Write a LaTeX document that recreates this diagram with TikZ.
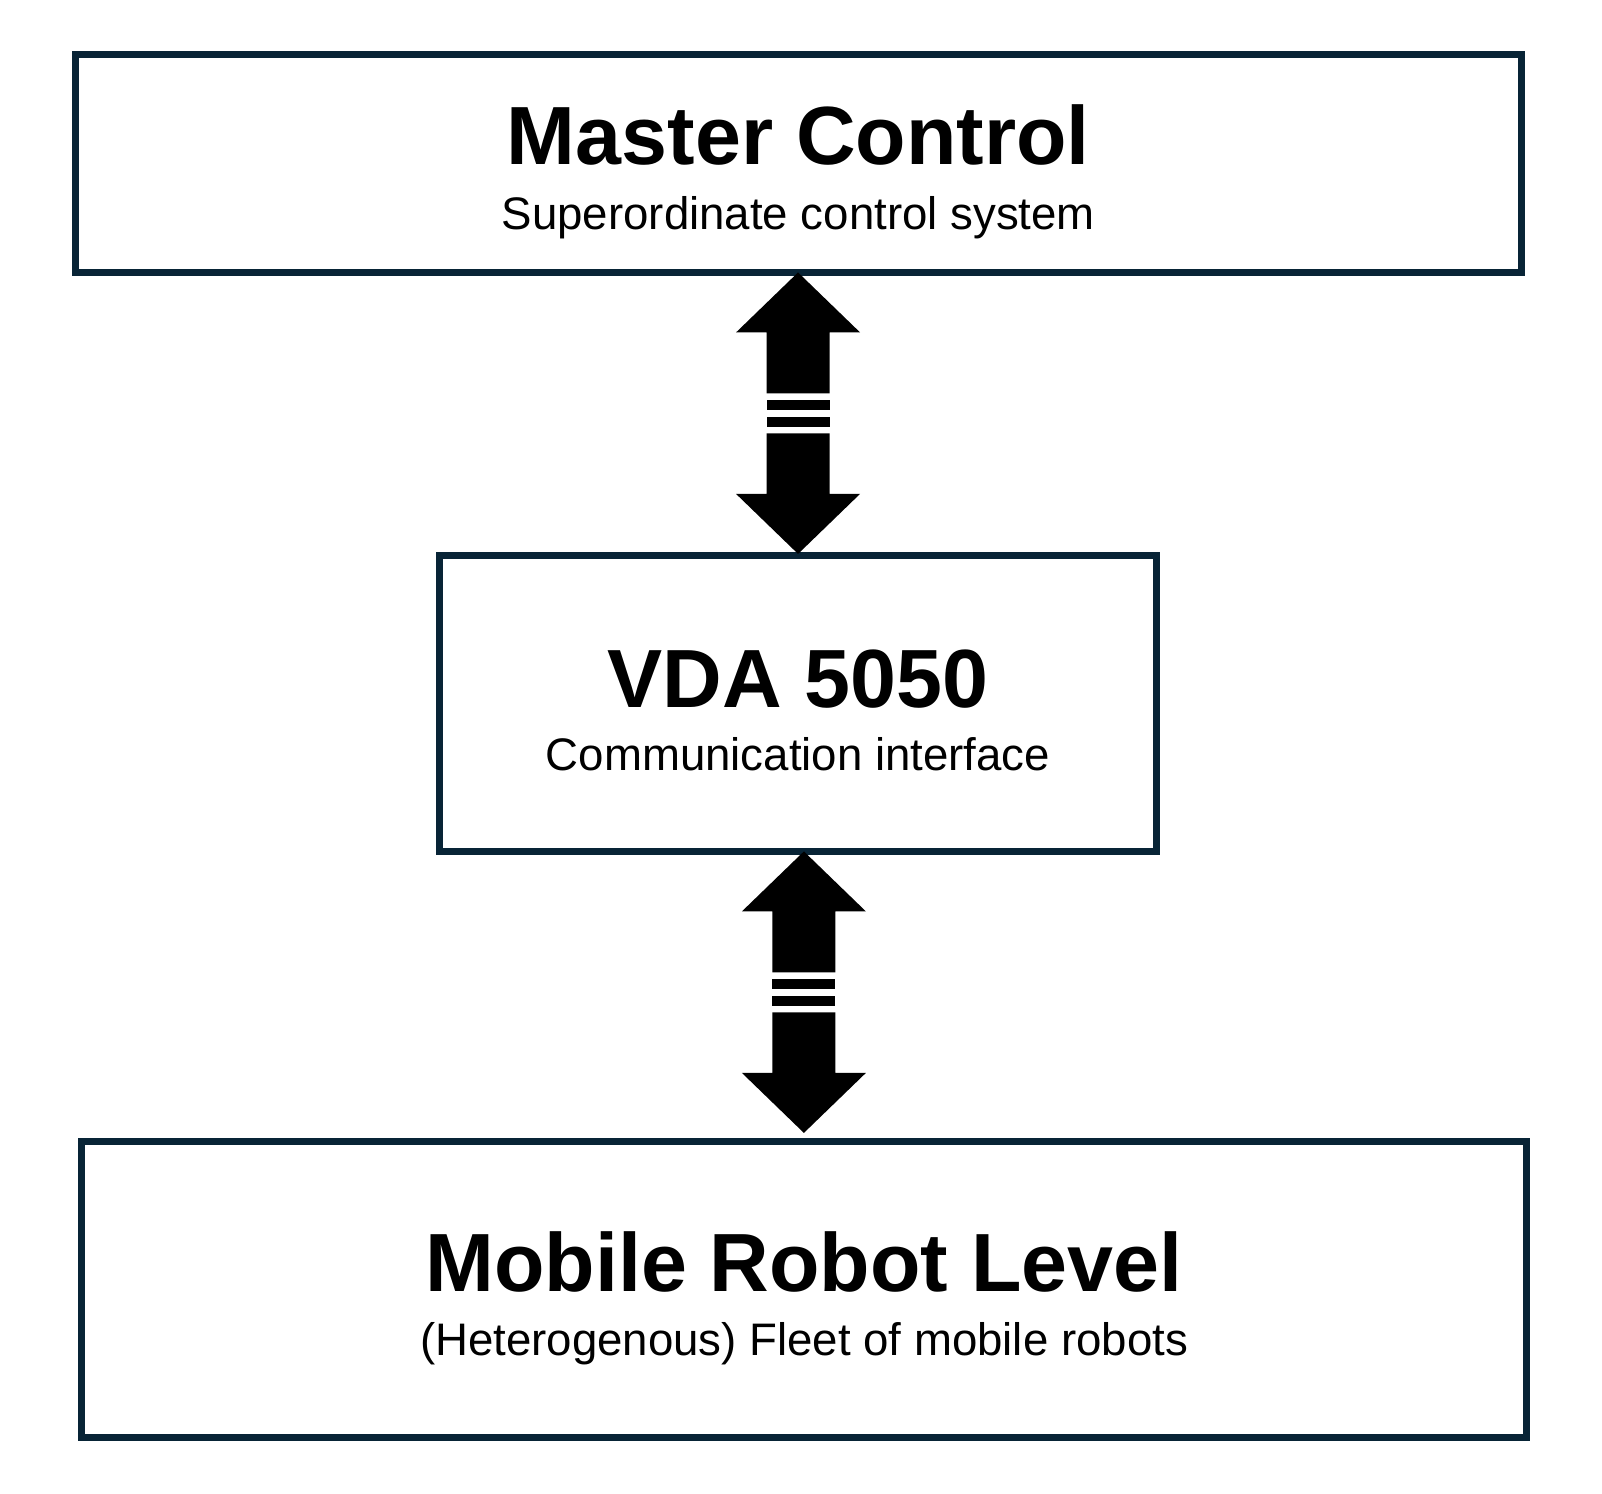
\documentclass[tikz,border=0pt]{standalone}
\usepackage{fontspec}
\setmainfont{Liberation Sans}
\definecolor{boxline}{RGB}{8,36,54}
\tikzset{
  levelbox/.style={draw=boxline, line width=3.65pt, rectangle, inner sep=0pt, outer sep=0pt, fill=white},
  titletext/.style={anchor=base, inner sep=0pt, font=\fontsize{41.3}{41.3}\selectfont\bfseries},
  subtext/.style={anchor=base, inner sep=0pt, font=\fontsize{22.8}{22.8}\selectfont},
  vdarrow/.pic={
    \fill[black] (0,0) -- (62,60) -- (31.5,60) -- (31.5,121) -- (-31.5,121) -- (-31.5,60) -- (-62,60) -- cycle;
    \fill[black] (-31.5,128) rectangle (31.5,138);
    \fill[black] (-31.5,144.5) rectangle (31.5,154.5);
    \fill[black] (-31.5,161) -- (31.5,161) -- (31.5,221.5) -- (62,221.5) -- (0,281.5) -- (-62,221.5) -- (-31.5,221.5) -- cycle;
  }
}
\begin{document}
\begin{tikzpicture}[x=0.5pt, y=-0.5pt]
\useasboundingbox (0,0) rectangle (1602,1494);
\node[levelbox, minimum width=722.95pt, minimum height=108.95pt] (mc) at (798.45,163.45) {};
\node[levelbox, minimum width=358.35pt, minimum height=147.95pt] (vda) at (798.05,703.45) {};
\node[levelbox, minimum width=722.5pt, minimum height=147.9pt] (mr) at (803.9,1289.3) {};
\node[titletext] (mct) at (798.4,164) {Master Control};
\node[subtext] (mcs) at (798.4,229) {Superordinate control system};
\node[titletext] (vdat) at (798,707) {VDA 5050};
\node[subtext] (vdas) at (798,770) {Communication interface};
\node[titletext] (mrt) at (804,1291) {Mobile Robot Level};
\node[subtext] (mrs) at (804,1355) {(Heterogenous) Fleet of mobile robots};
\path (vda.north |- mc.south) pic {vdarrow};
\path (mr.north |- vda.south) pic {vdarrow};
\end{tikzpicture}
\end{document}
